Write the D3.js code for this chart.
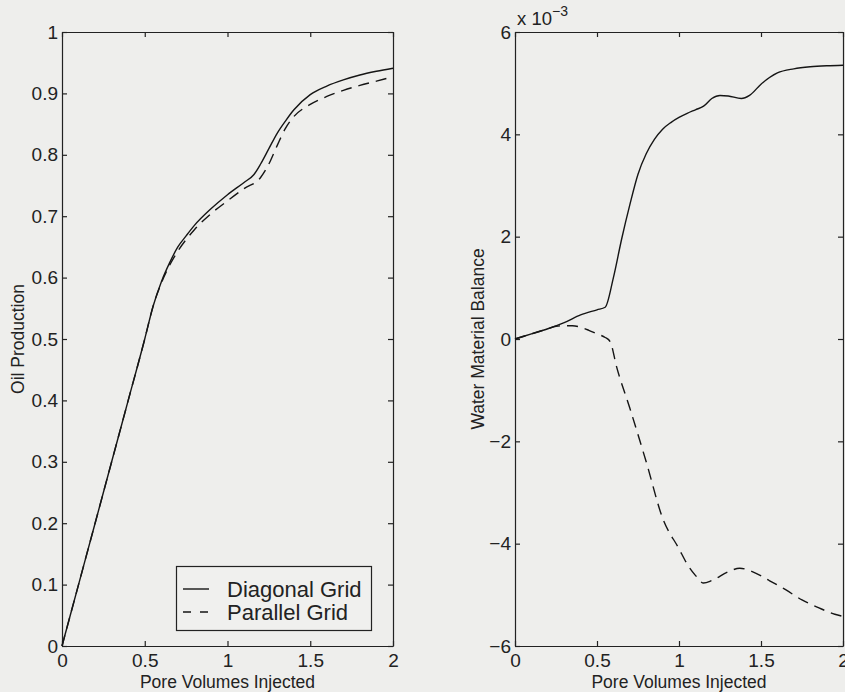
<!DOCTYPE html>
<html>
<head>
<meta charset="utf-8">
<script src="https://cdn.jsdelivr.net/npm/d3@7"></script>
<style>
body { margin: 0; background: #eeeeec; }
svg { display: block; font-family: "Liberation Sans", Arial, Helvetica, sans-serif; }
.axis text { fill: #222; font-size: 19px; font-family: "Liberation Sans", Arial, Helvetica, sans-serif; }
.axis path, .axis line { stroke: #222; stroke-width: 1.2; }
.curve { fill: none; stroke: #151515; stroke-width: 1.4; }
.dashed { stroke-dasharray: 11,7; }
</style>
</head>
<body>
<svg id="chart" width="845" height="692"></svg>
<script>
// left panel: oil production vs pore volumes injected
var oil_diag_x = [0, 0.1, 0.2, 0.3, 0.4, 0.5, 0.55, 0.6, 0.65, 0.7, 0.75, 0.8, 0.9, 1.0, 1.1, 1.16, 1.2, 1.25, 1.3, 1.35, 1.4, 1.5, 1.6, 1.7, 1.8, 1.9, 2.0];
var oil_diag_y = [0, 0.1, 0.2, 0.3, 0.4, 0.5, 0.553, 0.593, 0.624, 0.65, 0.668, 0.685, 0.712, 0.735, 0.755, 0.768, 0.785, 0.81, 0.835, 0.855, 0.873, 0.898, 0.912, 0.922, 0.93, 0.936, 0.941];
var oil_par_x = [0, 0.1, 0.2, 0.3, 0.4, 0.5, 0.55, 0.6, 0.65, 0.7, 0.8, 0.9, 1.0, 1.1, 1.2, 1.25, 1.3, 1.35, 1.4, 1.5, 1.6, 1.7, 1.8, 1.9, 2.0];
var oil_par_y = [0, 0.1, 0.2, 0.3, 0.4, 0.5, 0.553, 0.591, 0.62, 0.643, 0.678, 0.704, 0.725, 0.745, 0.763, 0.785, 0.815, 0.843, 0.862, 0.882, 0.895, 0.905, 0.913, 0.92, 0.927];

// right panel: water material balance (x 10^-3)
var wat_diag_x = [0, 0.1, 0.2, 0.3, 0.4, 0.5, 0.55, 0.6, 0.65, 0.7, 0.75, 0.8, 0.85, 0.9, 0.95, 1.0, 1.05, 1.1, 1.15, 1.2, 1.25, 1.3, 1.38, 1.43, 1.5, 1.6, 1.7, 1.8, 1.9, 2.0];
var wat_diag_y = [0, 0.1, 0.2, 0.32, 0.47, 0.57, 0.62, 1.2, 1.95, 2.62, 3.22, 3.62, 3.9, 4.1, 4.23, 4.33, 4.41, 4.48, 4.55, 4.7, 4.76, 4.75, 4.7, 4.76, 4.98, 5.2, 5.28, 5.32, 5.34, 5.35];
var wat_par_x = [0, 0.1, 0.2, 0.25, 0.3, 0.35, 0.4, 0.45, 0.5, 0.55, 0.58, 0.62, 0.7, 0.8, 0.9, 1.0, 1.05, 1.1, 1.15, 1.2, 1.3, 1.37, 1.45, 1.55, 1.65, 1.75, 1.85, 1.95, 2.0];
var wat_par_y = [0, 0.1, 0.2, 0.25, 0.26, 0.26, 0.23, 0.17, 0.1, 0.03, -0.05, -0.55, -1.35, -2.4, -3.5, -4.1, -4.4, -4.62, -4.77, -4.72, -4.55, -4.48, -4.55, -4.72, -4.9, -5.1, -5.25, -5.38, -5.42];

var x_ticks = [0, 0.5, 1, 1.5, 2];
var oil_ticks = [0, 0.1, 0.2, 0.3, 0.4, 0.5, 0.6, 0.7, 0.8, 0.9, 1];
var wat_ticks = [-6, -4, -2, 0, 2, 4, 6];
var legend_labels = ["Diagonal Grid", "Parallel Grid"];

var TOP = 32, BOTTOM = 646, TICK = 5;

function zip(xs, ys)
{
	return xs.map(function(x, i){ return [x, ys[i]]; });
}

function fmt(d)
{
	var s = String(+d.toFixed(2));
	return s.replace("-", "\u2212");
}

function draw_panel(svg, left, right, ydomain, yticks, ylabel, label_x, series)
{
	var x = d3.scaleLinear().domain([0, 2]).range([left, right]);
	var y = d3.scaleLinear().domain(ydomain).range([BOTTOM, TOP]);
	var g = svg.append("g");

	g.append("g").attr("class", "axis")
		.attr("transform", "translate(0," + BOTTOM + ")")
		.call(d3.axisBottom(x).tickValues(x_ticks).tickFormat(fmt).tickSize(-TICK).tickSizeOuter(0).tickPadding(8));
	g.append("g").attr("class", "axis")
		.attr("transform", "translate(0," + TOP + ")")
		.call(d3.axisTop(x).tickValues(x_ticks).tickFormat("").tickSize(-TICK).tickSizeOuter(0));
	g.append("g").attr("class", "axis")
		.attr("transform", "translate(" + left + ",0)")
		.call(d3.axisLeft(y).tickValues(yticks).tickFormat(fmt).tickSize(-TICK).tickSizeOuter(0).tickPadding(4));
	g.append("g").attr("class", "axis")
		.attr("transform", "translate(" + right + ",0)")
		.call(d3.axisRight(y).tickValues(yticks).tickFormat("").tickSize(-TICK).tickSizeOuter(0));

	var line = d3.line().x(function(d){ return x(d[0]); }).y(function(d){ return y(d[1]); }).curve(d3.curveMonotoneX);
	series.forEach(function(s){
		g.append("path")
			.attr("class", s.dashed ? "curve dashed" : "curve")
			.attr("d", line(s.data));
	});

	g.append("text")
		.attr("x", (left + right) / 2)
		.attr("y", 688)
		.attr("text-anchor", "middle")
		.attr("font-size", 17.5)
		.attr("fill", "#222")
		.text("Pore Volumes Injected");
	g.append("text")
		.attr("transform", "translate(" + label_x + "," + ((TOP + BOTTOM) / 2) + ") rotate(-90)")
		.attr("text-anchor", "middle")
		.attr("font-size", 17.5)
		.attr("fill", "#222")
		.text(ylabel);
	return g;
}

var svg = d3.select("#chart");

draw_panel(svg, 62, 393, [0, 1], oil_ticks, "Oil Production", 24, [
	{data: zip(oil_diag_x, oil_diag_y), dashed: false},
	{data: zip(oil_par_x, oil_par_y), dashed: true}
]);

draw_panel(svg, 515, 843, [-6, 6], wat_ticks, "Water Material Balance", 484, [
	{data: zip(wat_diag_x, wat_diag_y), dashed: false},
	{data: zip(wat_par_x, wat_par_y), dashed: true}
]);

// exponent label above right panel
var expo = svg.append("text").attr("x", 517).attr("y", 25).attr("fill", "#222").attr("font-size", 18.5);
expo.append("tspan").text("x 10");
expo.append("tspan").attr("dy", -9).attr("font-size", 14).text("\u22123");

// legend
var lg = svg.append("g");
lg.append("rect")
	.attr("x", 176.5).attr("y", 566.5).attr("width", 195).attr("height", 64)
	.attr("fill", "#f0f0ee").attr("stroke", "#222").attr("stroke-width", 1.2);
legend_labels.forEach(function(name, i){
	var yy = 589 + i * 23;
	lg.append("line")
		.attr("x1", 183).attr("x2", 209).attr("y1", yy).attr("y2", yy)
		.attr("stroke", "#151515").attr("stroke-width", 1.4)
		.attr("stroke-dasharray", i == 1 ? "8,9" : null);
	lg.append("text")
		.attr("x", 227).attr("y", yy + 8)
		.attr("font-size", 22).attr("fill", "#222")
		.text(name);
});
</script>
</body>
</html>
